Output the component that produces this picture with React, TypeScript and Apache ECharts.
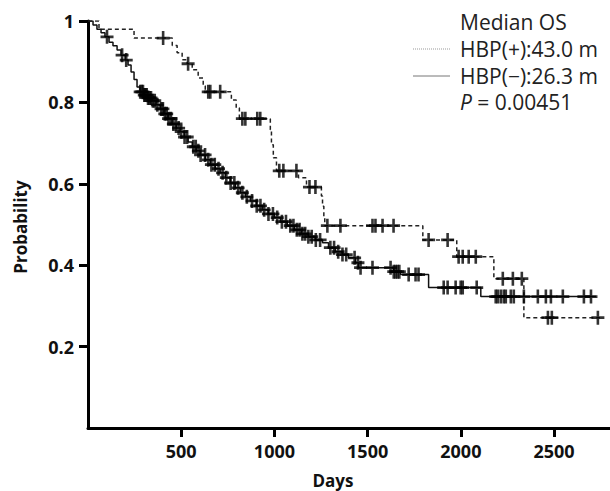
import React, { useEffect, useRef } from "react";
import * as echarts from "echarts";

// Kaplan–Meier step points [days, probability]
const hbpPosSteps: [number, number][] = [
  [0, 1.0], [59, 0.98], [247, 0.958], [452, 0.94], [478, 0.922], [505, 0.905],
  [532, 0.895], [559, 0.88], [591, 0.86], [618, 0.84], [629, 0.826], [769, 0.806],
  [795, 0.786], [812, 0.76], [978, 0.733], [984, 0.696], [994, 0.664], [1011, 0.632],
  [1129, 0.615], [1172, 0.592], [1252, 0.57], [1258, 0.545], [1265, 0.52], [1270, 0.497],
  [1796, 0.462], [1978, 0.421], [2177, 0.367], [2338, 0.271], [2746, 0.271],
];
const hbpPosCensorDays: number[] = [
  403, 537, 645, 656, 709, 828, 844, 908, 924, 1026, 1048, 1118, 1188, 1220, 1284,
  1354, 1526, 1542, 1580, 1639, 1827, 1929, 1988, 2010, 2042, 2080, 2225, 2279, 2327,
  2467, 2488, 2735,
];

const hbpNegSteps: [number, number][] = [
  [0, 1.0], [27, 0.99], [48, 0.98], [70, 0.971], [91, 0.961], [113, 0.948], [134, 0.939],
  [156, 0.929], [177, 0.916], [199, 0.904], [215, 0.892], [231, 0.875], [247, 0.856],
  [263, 0.838], [279, 0.826], [301, 0.818], [322, 0.811], [344, 0.804], [365, 0.794],
  [387, 0.784], [408, 0.772], [430, 0.76], [451, 0.747], [473, 0.737], [494, 0.728],
  [516, 0.715], [537, 0.703], [559, 0.691], [580, 0.681], [602, 0.671], [629, 0.659],
  [656, 0.647], [683, 0.637], [709, 0.627], [736, 0.615], [763, 0.602], [790, 0.59],
  [817, 0.578], [844, 0.568], [871, 0.558], [903, 0.546], [935, 0.536], [967, 0.526],
  [1000, 0.517], [1032, 0.507], [1069, 0.497], [1107, 0.487], [1145, 0.477], [1182, 0.47],
  [1220, 0.462], [1258, 0.455], [1290, 0.443], [1327, 0.433], [1365, 0.426], [1397, 0.418],
  [1435, 0.406], [1451, 0.394], [1639, 0.384], [1677, 0.377], [1827, 0.345], [2107, 0.323],
  [2725, 0.323],
];
const hbpNegCensorDays: number[] = [
  102, 183, 205, 280, 288, 295, 302, 308, 315, 322, 330, 338, 348, 358, 372, 392, 402, 412,
  422, 432, 445, 458, 472, 486, 500, 518, 532, 565, 578, 592, 604, 628, 645, 662, 680, 700,
  722, 742, 765, 785, 805, 828, 852, 880, 905, 925, 945, 968, 992, 1015, 1040, 1062, 1085,
  1102, 1120, 1135, 1150, 1165, 1182, 1200, 1222, 1245, 1300, 1320, 1342, 1365, 1385, 1430,
  1448, 1462, 1526, 1623, 1640, 1650, 1660, 1670, 1720, 1757, 1773, 1908, 1929, 1972, 1999,
  2010, 2085, 2187, 2198, 2214, 2230, 2241, 2268, 2284, 2338, 2413, 2456, 2483, 2547, 2660,
  2698,
];

const xTicks = [500, 1000, 1500, 2000, 2500];
const yTicks = [0.2, 0.4, 0.6, 0.8, 1];
const legendTitle = "Median OS";
const legendLabels = ["HBP(+):43.0 m", "HBP(\u2212):26.3 m"];
const pValue = "0.00451";

function survivalAt(steps: [number, number][], t: number): number {
  let p = steps[0][1];
  for (const [d, v] of steps) {
    if (d <= t) p = v;
    else break;
  }
  return p;
}

const PLUS = "path://M0,4.8L12,4.8L12,7.2L0,7.2Z M4.8,0L7.2,0L7.2,12L4.8,12Z";
const FONT = "'Open Sans', 'Noto Sans', sans-serif";

export default function App() {
  const ref = useRef<HTMLDivElement>(null);
  useEffect(() => {
    if (!ref.current) return;
    const chart = echarts.init(ref.current, null, { renderer: "svg" });
    const option: any = {
      animation: false,
      backgroundColor: "#ffffff",
      grid: { left: 88, right: 0, top: 21, bottom: 63, containLabel: false },
      xAxis: {
        type: "value",
        min: 0,
        max: 2800,
        splitLine: { show: false },
        axisLine: { lineStyle: { color: "#000", width: 3 } },
        axisTick: { customValues: xTicks, length: 9, lineStyle: { color: "#000", width: 3 } },
        axisLabel: {
          customValues: xTicks,
          color: "#111",
          fontFamily: FONT,
          fontWeight: "bold",
          fontSize: 18,
          margin: 14,
          formatter: (v: number) => String(v),
        },
      },
      yAxis: {
        type: "value",
        min: 0,
        max: 1,
        splitLine: { show: false },
        axisLine: { lineStyle: { color: "#000", width: 3 } },
        axisTick: { customValues: yTicks, length: 9, lineStyle: { color: "#000", width: 3 } },
        axisLabel: {
          customValues: yTicks,
          color: "#111",
          fontFamily: FONT,
          fontWeight: "bold",
          fontSize: 18,
          margin: 14,
          formatter: (v: number) => (v === 1 ? "1" : v.toFixed(1)),
        },
      },
      series: [
        {
          name: "HBP(+)",
          type: "line",
          step: "end",
          showSymbol: false,
          data: hbpPosSteps,
          lineStyle: { color: "#222", width: 1.5, type: [4, 3] },
          z: 2,
        },
        {
          name: "HBP(-)",
          type: "line",
          step: "end",
          showSymbol: false,
          data: hbpNegSteps,
          lineStyle: { color: "#111", width: 1.5 },
          z: 2,
        },
        {
          type: "scatter",
          symbol: PLUS,
          symbolSize: [13, 14],
          itemStyle: { color: "#000" },
          data: hbpPosCensorDays.map((d) => [d, survivalAt(hbpPosSteps, d)]),
          z: 3,
        },
        {
          type: "scatter",
          symbol: PLUS,
          symbolSize: [13, 14],
          itemStyle: { color: "#000" },
          data: hbpNegCensorDays.map((d) => [d, survivalAt(hbpNegSteps, d)]),
          z: 3,
        },
      ],
      graphic: [
        {
          type: "text",
          x: 20,
          y: 227,
          rotation: Math.PI / 2,
          style: {
            text: "Probability",
            fill: "#111",
            font: `bold 17px ${FONT}`,
            align: "center",
            verticalAlign: "middle",
          },
        },
        {
          type: "text",
          x: 333,
          y: 480,
          style: {
            text: "Days",
            fill: "#111",
            font: `bold 17px ${FONT}`,
            align: "center",
            verticalAlign: "middle",
          },
        },
        {
          type: "text",
          x: 460,
          y: 22,
          style: { text: legendTitle, fill: "#222", font: `21px ${FONT}`, verticalAlign: "middle" },
        },
        {
          type: "line",
          shape: { x1: 413, y1: 49, x2: 450, y2: 49 },
          style: { stroke: "#999", lineWidth: 1, lineDash: [1, 1] },
        },
        {
          type: "text",
          x: 460,
          y: 49,
          style: { text: legendLabels[0], fill: "#222", font: `21px ${FONT}`, verticalAlign: "middle" },
        },
        {
          type: "line",
          shape: { x1: 413, y1: 76, x2: 450, y2: 76 },
          style: { stroke: "#777", lineWidth: 1 },
        },
        {
          type: "text",
          x: 460,
          y: 76,
          style: { text: legendLabels[1], fill: "#222", font: `21px ${FONT}`, verticalAlign: "middle" },
        },
        {
          type: "text",
          x: 460,
          y: 102,
          style: {
            text: `{i|P} = ${pValue}`,
            fill: "#222",
            font: `21px ${FONT}`,
            verticalAlign: "middle",
            rich: {
              i: { fontStyle: "italic", fontFamily: FONT, fontSize: 21, fill: "#222" },
            },
          },
        },
      ],
    };
    chart.setOption(option);
    return () => chart.dispose();
  }, []);
  return (
    <div
      ref={ref}
      style={{ position: "fixed", left: 0, top: 0, width: 610, height: 491, background: "#fff" }}
    />
  );
}
